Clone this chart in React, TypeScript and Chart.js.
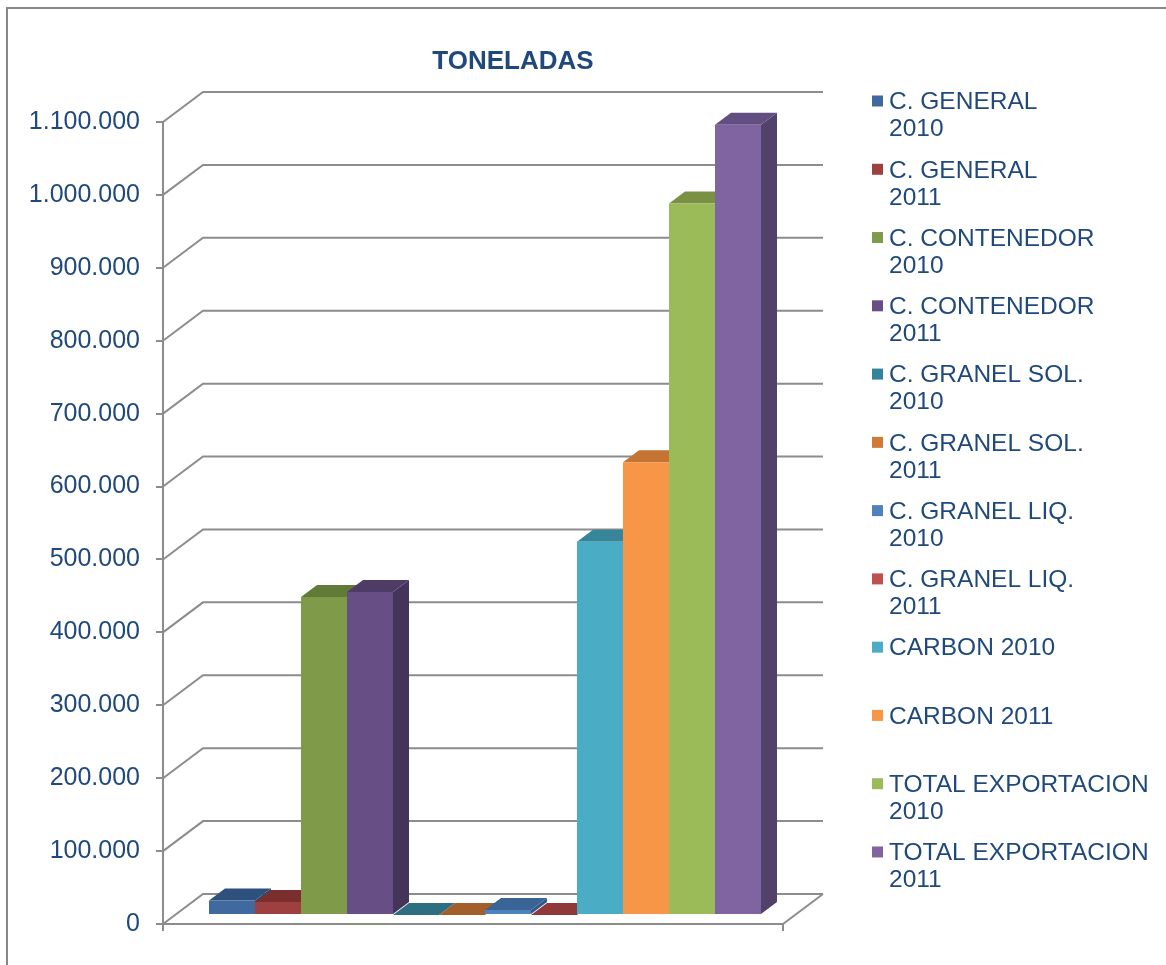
import React, { useEffect, useRef } from 'react';
import { Chart, registerables } from 'chart.js';

Chart.register(...registerables);

// ---------- data ----------
const TITLE = 'TONELADAS';
const categories = [''];
const seriesNames = [
  'C. GENERAL 2010',
  'C. GENERAL 2011',
  'C. CONTENEDOR 2010',
  'C. CONTENEDOR 2011',
  'C. GRANEL SOL. 2010',
  'C. GRANEL SOL. 2011',
  'C. GRANEL LIQ. 2010',
  'C. GRANEL LIQ. 2011',
  'CARBON 2010',
  'CARBON 2011',
  'TOTAL EXPORTACION 2010',
  'TOTAL EXPORTACION 2011',
];
const legendLines = [
  ['C. GENERAL', '2010'],
  ['C. GENERAL', '2011'],
  ['C. CONTENEDOR', '2010'],
  ['C. CONTENEDOR', '2011'],
  ['C. GRANEL SOL.', '2010'],
  ['C. GRANEL SOL.', '2011'],
  ['C. GRANEL LIQ.', '2010'],
  ['C. GRANEL LIQ.', '2011'],
  ['CARBON 2010'],
  ['CARBON 2011'],
  ['TOTAL EXPORTACION', '2010'],
  ['TOTAL EXPORTACION', '2011'],
];
const seriesValues = [20000, 18000, 436000, 443000, 0, 0, 7000, 0, 512000, 621000, 976000, 1084000];
const yMin = 0;
const yMax = 1100000;
const yStep = 100000;

// ---------- styles ----------
const frontColors = ['#4069A0', '#9E403F', '#7F9A48', '#674F85', '#31849B', '#D07A35', '#4F81BD', '#C0504D', '#4BACC6', '#F79646', '#9BBB59', '#8064A2'];
const topColors = ['#2E507C', '#7A2F2E', '#617A35', '#4E3C66', '#2D6E80', '#A35E2A', '#3A6496', '#8F3A38', '#368598', '#C57433', '#7A9144', '#624E80'];
const sideColors = ['#2A4870', '#6C2928', '#566C2F', '#44345A', '#275F6F', '#8E5225', '#33578A', '#7E3331', '#2F7486', '#AD652C', '#6B803B', '#524169'];
const TEXT_COLOR = '#1F497D';
const GRID_COLOR = '#8C8C8C';
const FONT = '"Liberation Sans", Arial, sans-serif';
const WALL_DX = 40;
const WALL_DY = -30;
const BAR_FRONT = 0.3;
const BAR_DEPTH = 0.4;

const fmt = (v: number) => String(v).replace(/\B(?=(\d{3})+(?!\d))/g, '.');

const threeD = {
  id: 'threeD',
  beforeDraw(chart: any) {
    const { ctx } = chart;
    ctx.save();
    ctx.strokeStyle = '#878787';
    ctx.lineWidth = 2;
    ctx.strokeRect(7, 8, 1400, 1400);
    ctx.restore();
  },
  beforeDatasetsDraw(chart: any) {
    const { ctx, chartArea: a, scales } = chart;
    const ys = scales.y;
    ctx.save();
    ctx.strokeStyle = GRID_COLOR;
    ctx.lineWidth = 2;
    ys.ticks.forEach((t: any) => {
      const py = ys.getPixelForValue(t.value);
      ctx.beginPath();
      ctx.moveTo(a.left, py);
      ctx.lineTo(a.left + WALL_DX, py + WALL_DY);
      ctx.lineTo(a.right + WALL_DX, py + WALL_DY);
      ctx.stroke();
    });
    const p0 = ys.getPixelForValue(0);
    ctx.beginPath();
    ctx.moveTo(a.right, p0);
    ctx.lineTo(a.right + WALL_DX, p0 + WALL_DY);
    ctx.stroke();
    ctx.restore();

    ctx.save();
    ctx.translate(WALL_DX * BAR_FRONT, WALL_DY * BAR_FRONT);
    const dx = WALL_DX * BAR_DEPTH;
    const dy = WALL_DY * BAR_DEPTH;
    chart.data.datasets.forEach((_ds: any, i: number) => {
      const meta = chart.getDatasetMeta(i);
      meta.data.forEach((bar: any) => {
        const { x, y: top, base, width } = bar;
        const l = x - width / 2;
        const r = x + width / 2;
        ctx.fillStyle = sideColors[i];
        ctx.beginPath();
        ctx.moveTo(r, top);
        ctx.lineTo(r + dx, top + dy);
        ctx.lineTo(r + dx, base + dy);
        ctx.lineTo(r, base);
        ctx.closePath();
        ctx.fill();
        ctx.fillStyle = topColors[i];
        ctx.beginPath();
        ctx.moveTo(l, top);
        ctx.lineTo(r, top);
        ctx.lineTo(r + dx, top + dy);
        ctx.lineTo(l + dx, top + dy);
        ctx.closePath();
        ctx.fill();
      });
    });
  },
  afterDatasetsDraw(chart: any) {
    chart.ctx.restore();
  },
  afterDraw(chart: any) {
    const { ctx } = chart;
    ctx.save();
    ctx.fillStyle = TEXT_COLOR;
    ctx.font = `bold 26px ${FONT}`;
    ctx.textAlign = 'center';
    ctx.textBaseline = 'middle';
    ctx.fillText(TITLE, 513, 62);

    ctx.font = `24.5px ${FONT}`;
    ctx.textAlign = 'left';
    legendLines.forEach((lines, i) => {
      const cy = 101 + i * 68.27;
      ctx.fillStyle = frontColors[i];
      ctx.fillRect(872, cy - 5.5, 11, 11);
      ctx.fillStyle = TEXT_COLOR;
      lines.forEach((t, j) => ctx.fillText(t, 889, cy + 1.5 + j * 27));
    });
    ctx.restore();
  },
};

export default function App() {
  const ref = useRef<HTMLCanvasElement | null>(null);
  useEffect(() => {
    if (!ref.current) return;
    const chart = new Chart(ref.current, {
      type: 'bar',
      data: {
        labels: categories,
        datasets: seriesNames.map((name, i) => ({
          label: name,
          data: [seriesValues[i]],
          backgroundColor: frontColors[i],
          borderWidth: 0,
          barPercentage: 1,
          categoryPercentage: 552 / 620,
          clip: false as any,
        })),
      },
      options: {
        animation: false,
        responsive: true,
        maintainAspectRatio: false,
        events: [],
        layout: { padding: { left: 0, right: 383, top: 122, bottom: 0 } },
        plugins: {
          legend: { display: false },
          title: { display: false },
          tooltip: { enabled: false },
        },
        scales: {
          x: {
            grid: { drawOnChartArea: false, drawTicks: true, tickLength: 7, color: GRID_COLOR, lineWidth: 2 },
            border: { display: true, color: GRID_COLOR, width: 2 },
            ticks: { display: true },
            afterFit: (s: any) => { s.height = 41; },
          },
          y: {
            min: yMin,
            max: yMax,
            grid: { drawOnChartArea: false, drawTicks: true, tickLength: 7, color: GRID_COLOR, lineWidth: 2 },
            border: { display: true, color: GRID_COLOR, width: 2 },
            ticks: {
              stepSize: yStep,
              padding: 16,
              color: TEXT_COLOR,
              font: { family: FONT, size: 25 },
              callback: (v: any) => fmt(Number(v)),
            },
            afterFit: (s: any) => { s.width = 163; },
          },
        },
      },
      plugins: [threeD],
    });
    return () => chart.destroy();
  }, []);
  return (
    <div style={{ position: 'absolute', left: 0, top: 0, width: 1166, height: 965, background: '#fff' }}>
      <canvas ref={ref} />
    </div>
  );
}
